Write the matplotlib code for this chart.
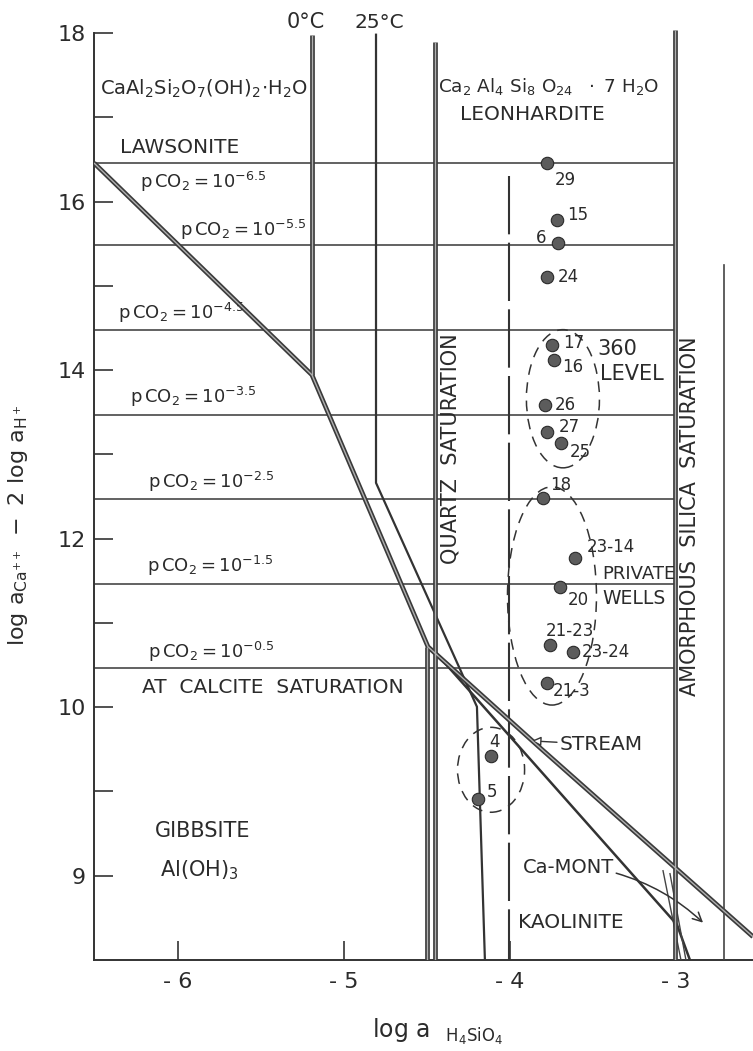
import numpy as np
import matplotlib
matplotlib.use('Agg')
import matplotlib.pyplot as plt
from matplotlib.patches import Ellipse

plt.rcParams['font.family'] = ['DejaVu Sans']
plt.rcParams['mathtext.default'] = 'regular'

# ---- data ----
well_ids = ['29', '15', '6', '24', '17', '16', '26', '27', '25', '18',
            '23-14', '20', '21-23', '23-24', '21-3', '4', '5']
well_x = [-3.777, -3.717, -3.711, -3.777, -3.747, -3.735, -3.789, -3.777, -3.693,
          -3.801, -3.608, -3.699, -3.759, -3.620, -3.777, -4.114, -4.193]
well_y = [16.46, 15.78, 15.51, 15.11, 14.30, 14.12, 13.58, 13.26, 13.13,
          12.48, 11.77, 11.43, 10.74, 10.65, 10.29, 9.42, 8.91]

pco2_exp = ['-6.5', '-5.5', '-4.5', '-3.5', '-2.5', '-1.5', '-0.5']
pco2_line_y = [16.46, 15.49, 14.48, 13.47, 12.47, 11.46, 10.47]

# lawsonite boundary (0 C) continuing as the kaolinite boundary
law_x = [-6.506, -5.193, -4.494, -3.819, -2.536]
law_y = [16.458, 13.943, 10.717, 9.518, 7.276]
t0_x = [-5.193, -5.193]
t0_y = [17.98, 13.943]
# 25 C boundary
t25_x = [-4.807, -4.807, -4.199, -4.151]
t25_y = [17.98, 12.662, 10.005, 7.0]
# kaolinite / Ca-mont boundary
kao_x = [-4.452, -2.994, -2.916]
kao_y = [10.657, 7.419, 7.0]
fan1_x = [-3.078, -2.970]
fan1_y = [8.059, 7.0]
fan2_x = [-3.036, -2.940]
fan2_y = [8.024, 7.0]

quartz_left_x = -4.500
quartz_left_y = [10.717, 7.0]
quartz_right_x = -4.452
quartz_right_y = [17.89, 7.0]
dashed_x = -4.006
dashed_y = [16.30, 7.0]
amorph_x = -3.006
amorph_y = [18.04, 7.0]
far_x = -2.711
far_y = [15.25, 7.0]

ytick_pos = [18, 17, 16, 15, 14, 13, 12, 11, 10, 9, 8]
ytick_lab = ['18', '', '16', '', '14', '', '12', '', '10', '', '9']
xtick_pos = [-6, -5, -4, -3]
xtick_lab = ['- 6', '- 5', '- 4', '- 3']

# label offsets in points (layout only)
lab_off = {'29': (5.8, -12.2), '15': (7.2, 3.6), '6': (-8.6, 3.6), '24': (7.9, 0),
           '17': (7.9, 1.4), '16': (5.8, -5), '26': (7.2, 0), '27': (8.6, 3.6),
           '25': (6.5, -6.5), '18': (5, 9.4), '23-14': (8.6, 7.9), '20': (5.8, -9.4),
           '21-23': (-2.9, 10), '23-24': (6.5, 0), '21-3': (4.3, -5.8),
           '4': (-1.4, 10), '5': (6.5, 5)}

INK = '#2b2b2b'


def heavy(ax, xs, ys):
    """double inked line: dark edges, pale middle"""
    ax.plot(xs, ys, color='#3a3a3a', lw=3.4, solid_capstyle='butt', zorder=3)
    ax.plot(xs, ys, color='#b0b0b0', lw=1.0, solid_capstyle='butt', zorder=4)


fig = plt.figure(figsize=(7.53, 10.51), dpi=100)
ax = fig.add_axes([0.1248, 0.0866, 0.8752, 0.886])
ax.set_xlim(-6.506, -2.536)
ax.set_ylim(7.0, 18.05)

# pCO2 lines
for yy in pco2_line_y:
    ax.plot([-6.506, amorph_x], [yy, yy], color='#555555', lw=1.3, zorder=2)

heavy(ax, law_x, law_y)
heavy(ax, t0_x, t0_y)
ax.plot(t25_x, t25_y, color='#333333', lw=1.6, zorder=3)
ax.plot(kao_x, kao_y, color='#333333', lw=1.8, zorder=3)
ax.plot(fan1_x, fan1_y, color='#444444', lw=1.0, zorder=3)
ax.plot(fan2_x, fan2_y, color='#444444', lw=1.0, zorder=3)
heavy(ax, [quartz_left_x] * 2, quartz_left_y)
heavy(ax, [quartz_right_x] * 2, quartz_right_y)
heavy(ax, [amorph_x] * 2, amorph_y)
ax.plot([far_x] * 2, far_y, color='#444444', lw=1.2, zorder=3)
ax.plot([dashed_x] * 2, dashed_y, color='#333333', lw=1.5, ls=(0, (28, 4)), zorder=3)

# sample groups
for (cx, cy, w, h) in [(-3.681, 13.66, 0.44, 1.64), (-3.747, 11.32, 0.536, 2.59),
                       (-4.114, 9.257, 0.404, 1.008)]:
    ax.add_patch(Ellipse((cx, cy), w, h, fill=False, ec='#333333', lw=1.1,
                         ls=(0, (7, 5)), zorder=5))

ax.scatter(well_x, well_y, s=80, color='#5c5c5c', edgecolor='#2a2a2a', lw=0.8, zorder=6)
for name, x, y in zip(well_ids, well_x, well_y):
    dx, dy = lab_off[name]
    ax.annotate(name, (x, y), xytext=(dx, dy), textcoords='offset points',
                ha='right' if name == '6' else 'left', va='center',
                fontsize=12, color=INK, zorder=7)

# texts
fs = 14.5
ax.text(-6.47, 17.34, r'$\mathregular{CaAl_2Si_2O_7(OH)_2\!\cdot\!H_2O}$', fontsize=14,
        va='center', color=INK)
ax.text(-4.434, 17.36, r'$\mathregular{Ca_2\ Al_4\ Si_8\ O_{24}\ \ \cdot\ 7\ H_2O}$',
        fontsize=13.2, va='center', color=INK)
ax.text(-3.867, 17.03, 'LEONHARDITE', fontsize=fs, ha='center', va='center', color=INK)
ax.text(-6.349, 16.64, 'LAWSONITE', fontsize=fs, va='center', color=INK)

pco2_pos = [(-6.229, 16.23), (-5.988, 15.66), (-6.361, 14.68), (-6.289, 13.68),
            (-6.18, 12.67), (-6.187, 11.67), (-6.18, 10.66)]
for e, (px, py) in zip(pco2_exp, pco2_pos):
    ax.text(px, py, r'$\mathregular{p\,CO_2 = 10^{%s}}$' % e, fontsize=13,
            va='center', color=INK)

ax.text(-6.217, 10.23, 'AT  CALCITE  SATURATION', fontsize=fs, va='center', color=INK)
ax.text(-5.849, 8.534, 'GIBBSITE', fontsize=15, ha='center', va='center', color=INK)
ax.text(-5.873, 8.06, r'$\mathregular{Al(OH)_3}$', fontsize=15, ha='center', va='center',
        color=INK)
ax.text(-5.229, 18.13, '0°C', fontsize=15, ha='center', va='center', color=INK)
ax.text(-4.79, 18.13, '25°C', fontsize=fs, ha='center', va='center', color=INK)
ax.text(-4.361, 13.07, 'QUARTZ  SATURATION', fontsize=15, rotation=90,
        ha='center', va='center', color=INK)
ax.text(-2.916, 12.27, 'AMORPHOUS  SILICA  SATURATION', fontsize=15, rotation=90,
        ha='center', va='center', color=INK)
ax.text(-3.476, 14.25, '360', fontsize=15, va='center', color=INK)
ax.text(-3.458, 13.955, 'LEVEL', fontsize=15, va='center', color=INK)
ax.text(-3.446, 11.58, 'PRIVATE', fontsize=13, va='center', color=INK)
ax.text(-3.446, 11.29, 'WELLS', fontsize=13.5, va='center', color=INK)
ax.text(-3.952, 7.45, 'KAOLINITE', fontsize=fs, va='center', color=INK)
ax.text(-3.922, 8.095, 'Ca-MONT', fontsize=14, va='center', color=INK)

ax.annotate('STREAM', xy=(-3.87, 9.60), xytext=(-3.70, 9.555), fontsize=fs,
            va='center', color=INK,
            arrowprops=dict(arrowstyle='-|>', fc='white', ec='#333333', lw=1.0,
                            shrinkA=0, shrinkB=0, mutation_scale=14))
ax.annotate('', xy=(-2.837, 7.443), xytext=(-3.36, 8.03),
            arrowprops=dict(arrowstyle='->', color='#333333', lw=1.1,
                            shrinkA=0, shrinkB=0, mutation_scale=16,
                            connectionstyle='arc3,rad=-0.12'))

# axes styling
for s in ['top', 'right']:
    ax.spines[s].set_visible(False)
ax.spines['left'].set_bounds(7.0, 18.0)
for s in ['left', 'bottom']:
    ax.spines[s].set_linewidth(1.4)
    ax.spines[s].set_color('#333333')
ax.set_yticks(ytick_pos)
ax.set_yticklabels(ytick_lab)
ax.set_xticks(xtick_pos)
ax.set_xticklabels(xtick_lab)
ax.tick_params(axis='both', direction='in', length=14, width=1.2, colors='#333333',
               labelsize=16, labelcolor=INK)
ax.tick_params(axis='y', pad=6)
ax.tick_params(axis='x', pad=9)

ax.set_ylabel(r'$\mathregular{log\ a_{Ca^{++}}\ -\ 2\ log\ a_{H^+}}$', fontsize=16, color=INK)
ax.yaxis.set_label_coords(-0.097, 0.467)
ax.set_xlabel(r'$\mathregular{log\ a\ \ _{H_4SiO_4}}$', fontsize=17, color=INK)
ax.xaxis.set_label_coords(0.522, -0.061)

fig.savefig('out.png', dpi=100)
